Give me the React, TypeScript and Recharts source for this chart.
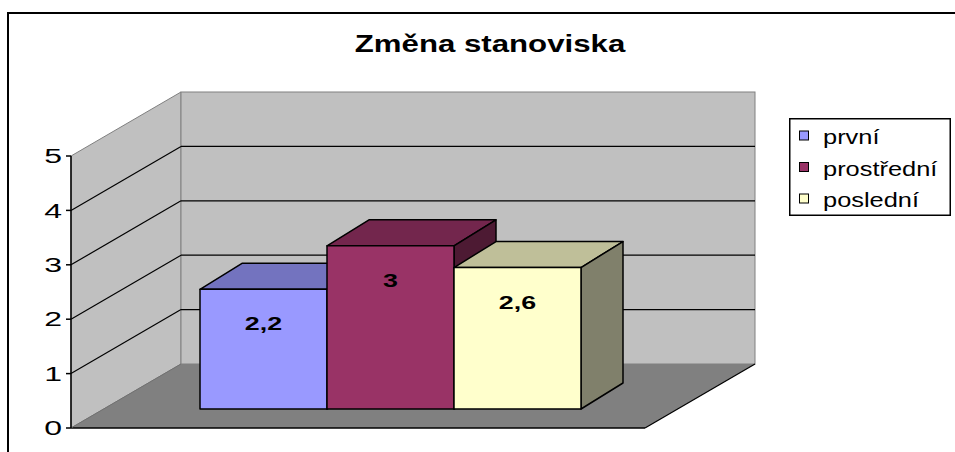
import React from 'react';
import { BarChart, Bar, XAxis, YAxis, ReferenceArea, ReferenceLine, Legend } from 'recharts';

const TITLE = 'Změna stanoviska';
const CATEGORIES = ['Změna stanoviska'];
const SERIES_KEYS = ['prvni', 'prostredni', 'posledni'];
const SERIES_NAMES = ['první', 'prostřední', 'poslední'];
const VALUES = [2.2, 3, 2.6];
const Y_TICKS = [0, 1, 2, 3, 4, 5];
const GRID_LEVELS = [1, 2, 3, 4];

const FRONT = ['#9999FF', '#993366', '#FFFFCC'];
const TOP = ['#7373BF', '#73264D', '#BFBF99'];
const SIDE = ['#4D4D80', '#4D1A33', '#80806B'];

const FONT = '"Liberation Sans", Arial, sans-serif';

// 3d projection: full depth of the floor, and where the bars sit inside it
const DEPTH = { dx: 110, dy: -64 };
const BAR_SHIFT = { dx: 33, dy: -19 };
const BAR_DEPTH = { dx: 42, dy: -26 };

const data = CATEGORIES.map((name) => {
  const row: any = { name };
  SERIES_KEYS.forEach((k, i) => (row[k] = VALUES[i]));
  return row;
});

const fmt = (v: number) => String(v).replace('.', ',');

// Excel chart was stretched sideways, so text is widened too
const SText = ({ x, y, size, sx, bold, anchor, children }: any) => (
  <text
    transform={`translate(${x},${y}) scale(${sx},1)`}
    fontSize={size}
    fontWeight={bold ? 'bold' : 'normal'}
    fontFamily={FONT}
    textAnchor={anchor || 'start'}
    fill="#000"
  >
    {children}
  </text>
);

const pts = (arr: number[][]) => arr.map((p) => p.join(',')).join(' ');

const Walls = (props: any) => {
  const { x, y, width, height } = props;
  const b = y + height;
  const { dx, dy } = DEPTH;
  return (
    <g>
      <polygon points={pts([[x, y], [x + dx, y + dy], [x + dx, b + dy], [x, b]])} fill="#C0C0C0" stroke="#808080" strokeWidth={1} />
      <rect x={x + dx} y={y + dy} width={width} height={height} fill="#C0C0C0" stroke="#808080" strokeWidth={1} />
      <polygon points={pts([[x, b], [x + dx, b + dy], [x + width + dx, b + dy], [x + width, b]])} fill="#808080" />
      <line x1={x + width} y1={b} x2={x + width + dx} y2={b + dy} stroke="#000" strokeWidth={1.2} />
      <line x1={x} y1={b} x2={x + width} y2={b} stroke="#000" strokeWidth={1.5} />
      <line x1={x} y1={b} x2={x + dx} y2={b + dy} stroke="#707070" strokeWidth={1} />
    </g>
  );
};

const GridLine = (props: any) => {
  const { x1, y1, x2 } = props;
  const { dx, dy } = DEPTH;
  return (
    <g stroke="#000" strokeWidth={1.2}>
      <line x1={x1} y1={y1} x2={x1 + dx} y2={y1 + dy} />
      <line x1={x1 + dx} y1={y1 + dy} x2={x2 + dx} y2={y1 + dy} />
    </g>
  );
};

const Box3D = (props: any) => {
  const { x, y, width, height, idx } = props;
  const fx = x + BAR_SHIFT.dx;
  const fy = y + BAR_SHIFT.dy;
  const { dx, dy } = BAR_DEPTH;
  const w = width;
  const h = height;
  const val = props.payload ? props.payload[SERIES_KEYS[idx]] : VALUES[idx];
  return (
    <g stroke="#000" strokeWidth={1.5} strokeLinejoin="round">
      <polygon points={pts([[fx, fy], [fx + dx, fy + dy], [fx + w + dx, fy + dy], [fx + w, fy]])} fill={TOP[idx]} />
      <polygon points={pts([[fx + w, fy], [fx + w + dx, fy + dy], [fx + w + dx, fy + h + dy], [fx + w, fy + h]])} fill={SIDE[idx]} />
      <rect x={fx} y={fy} width={w} height={h} fill={FRONT[idx]} />
      <g stroke="none">
        <SText x={fx + w / 2} y={fy + 41} size={18.5} sx={1.45} bold anchor="middle">
          {fmt(val)}
        </SText>
      </g>
    </g>
  );
};

const YTick = (props: any) => {
  const { x, y, payload } = props;
  return (
    <SText x={x} y={y + 7.2} size={20} sx={1.6} anchor="end">
      {payload.value}
    </SText>
  );
};

const LegendBox = (props: any) => {
  const payload = [...(props.payload || [])].sort(
    (a: any, b: any) => SERIES_NAMES.indexOf(a.value) - SERIES_NAMES.indexOf(b.value)
  );
  const rows = [26, 57.5, 89];
  return (
    <svg width={163} height={99} style={{ display: 'block' }}>
      <rect x={0.75} y={0.75} width={160.5} height={96.5} fill="#fff" stroke="#000" strokeWidth={1.5} />
      {payload.map((entry: any, i: number) => (
        <g key={entry.value}>
          <rect x={10.5} y={rows[i] - 13} width={9} height={9} fill={entry.color} stroke="#000" strokeWidth={1} />
          <SText x={34} y={rows[i]} size={20.5} sx={1.24}>
            {entry.value}
          </SText>
        </g>
      ))}
    </svg>
  );
};

export default function App() {
  return (
    <div style={{ position: 'absolute', left: 0, top: 0, width: 955, height: 452, overflow: 'hidden', background: '#fff' }}>
      <div style={{ position: 'absolute', left: 7, top: 12, width: 960, height: 450, borderTop: '2px solid #000', borderLeft: '2px solid #000' }} />
      <BarChart
        width={955}
        height={452}
        data={data}
        margin={{ top: 156, right: 310, bottom: 24, left: 11 }}
        barCategoryGap={96}
        barGap={0}
        style={{ position: 'absolute', left: 0, top: 0 }}
      >
        <XAxis dataKey="name" hide />
        <YAxis
          width={60}
          domain={[0, 5]}
          ticks={Y_TICKS}
          interval={0}
          axisLine={{ stroke: '#000', strokeWidth: 1.5 }}
          tickLine={{ stroke: '#000', strokeWidth: 1.5 }}
          tickSize={5}
          tickMargin={4}
          tick={YTick}
        />
        <ReferenceArea y1={0} y2={5} shape={Walls} zIndex={-80} isFront={false} />
        {GRID_LEVELS.map((v) => (
          <ReferenceLine key={v} y={v} shape={GridLine} zIndex={-70} />
        ))}
        {SERIES_KEYS.map((k, i) => (
          <Bar
            key={k}
            dataKey={k}
            name={SERIES_NAMES[i]}
            fill={FRONT[i]}
            isAnimationActive={false}
            shape={(p: any) => <Box3D {...p} idx={i} />}
          />
        ))}
        <Legend
          layout="horizontal"
          verticalAlign="middle"
          align="center"
          content={LegendBox}
          wrapperStyle={{ left: 789, top: 118, width: 163, height: 99, margin: 0, padding: 0 }}
        />
      </BarChart>
      <svg width={955} height={80} style={{ position: 'absolute', left: 0, top: 0, pointerEvents: 'none' }}>
        <SText x={490} y={52} size={24} sx={1.3} bold anchor="middle">
          {TITLE}
        </SText>
      </svg>
    </div>
  );
}
